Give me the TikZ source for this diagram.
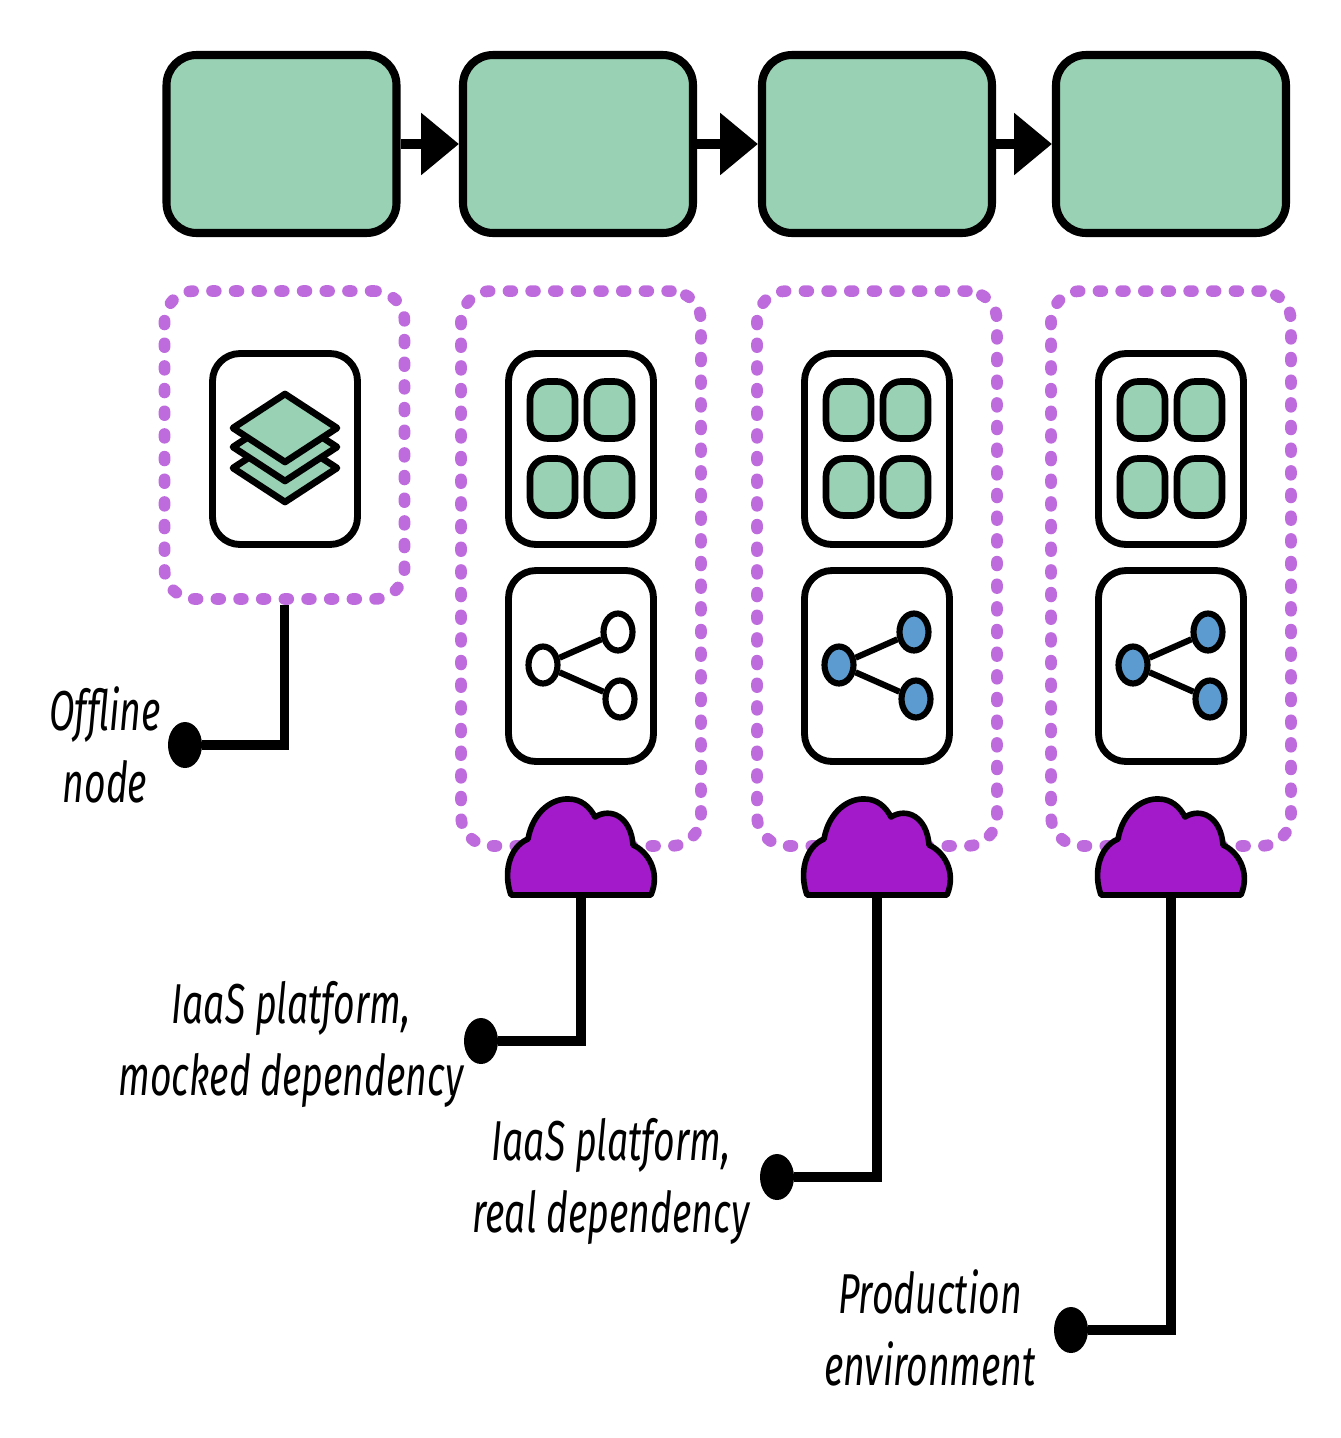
\documentclass[tikz,border=0pt]{standalone}
\usepackage{fontspec}
\newfontfamily\labelfont[FakeStretch=0.665]{Fira Sans}
\usetikzlibrary{arrows.meta}
\usetikzlibrary{shapes.geometric}
\definecolor{stagegreen}{HTML}{98D1B4}
\definecolor{zonepurple}{HTML}{BE6BDD}
\definecolor{cloudpurple}{HTML}{A31ACB}
\definecolor{shareblue}{HTML}{5B9BD0}

\begin{document}
\begin{tikzpicture}
	[
	x=0.02cm, y=-0.02cm,
	> = {Triangle[length=21.5pt,width=34pt]},
	stagebox/.style = {draw,fill=stagegreen,line width=4.6pt,rounded corners=0.6cm,minimum width=4.6cm,minimum height=3.56cm},
	zone/.style = {draw=zonepurple,line width=6.6pt,line cap=round,dash pattern=on 2.2pt off 10.7pt,rounded corners=0.6cm,minimum width=4.8cm},
	panel/.style = {draw,fill=white,line width=3.9pt,rounded corners=0.55cm,minimum width=2.9cm,minimum height=3.82cm},
	tile/.style = {draw,fill=stagegreen,line width=3.8pt,rounded corners=0.36cm,minimum width=0.9cm,minimum height=1.14cm},
	sharedot/.style = {ellipse,draw,line width=3.5pt,inner sep=0pt,minimum width=0.58cm,minimum height=0.74cm},
	layer/.style = {draw,fill=stagegreen,line width=3.8pt,line join=round},
	cloudshape/.style = {draw,fill=cloudpurple,line width=3.2pt,line join=round},
	pin/.style = {ellipse,fill,inner sep=0pt,minimum width=0.68cm,minimum height=0.92cm},
	leader/.style = {line width=5.2pt},
	callout/.style = {align=center,font=\labelfont\itshape\fontsize{32}{41}\selectfont}
	]
	\useasboundingbox (0,0) rectangle (1340,1438);

	% pipeline
	\node[stagebox] (stage1) at (281.5,144) {};
	\node[stagebox] (stage2) at (578,144) {};
	\node[stagebox] (stage3) at (877,144) {};
	\node[stagebox] (stage4) at (1171,144) {};
	\foreach \a/\b in {1/2,2/3,3/4}
		\draw[->,line width=5.4pt] (stage\a) -- (stage\b);

	% offline node
	\node[zone,minimum height=6.16cm] (zone1) at (284.5,445) {};
	\node[panel] (stack1) at (285,449) {};
	\foreach \ypos in {468,447,428}
		\draw[layer] (285,\ypos-34) -- (337,\ypos) -- (285,\ypos+34) -- (233,\ypos) -- cycle;
	\node[pin] (pin1) at (185,745) {};
	\draw[leader] (pin1) -| (zone1.south);
	\node[callout] (text1) at (105,745) {Offline\\node};

	% the three platforms
	\foreach \n/\cx/\dotfill in {2/581/white,3/877/shareblue,4/1171/shareblue}
	{
		\node[zone,minimum height=11.1cm] (zone\n) at (\cx,568.5) {};
		\node[panel] (grid\n) at (\cx,449) {};
		\node[tile] at (\cx-28.5,410) (tilea\n) {};
		\node[tile] at (\cx+28.5,410) (tileb\n) {};
		\node[tile] at (\cx-28.5,487) (tilec\n) {};
		\node[tile] at (\cx+28.5,487) (tiled\n) {};
		\node[panel] (share\n) at (\cx,666) {};
		\node[sharedot,fill=\dotfill] (root\n) at (\cx-38,665) {};
		\node[sharedot,fill=\dotfill] (upper\n) at (\cx+37,632) {};
		\node[sharedot,fill=\dotfill] (lower\n) at (\cx+39,699) {};
		\draw[line width=3.5pt] (root\n) -- (upper\n);
		\draw[line width=3.5pt] (root\n) -- (lower\n);
		\coordinate (cloud\n) at (\cx,895);
		\draw[cloudshape,shift={(cloud\n)}] (-70,0) .. controls (-78,-22) and (-72,-48) .. (-53,-56)
			.. controls (-48,-84) and (-28,-97) .. (-12,-96)
			.. controls (0,-96) and (9,-88) .. (14,-78)
			.. controls (30,-88) and (50,-78) .. (52,-50)
			.. controls (66,-44) and (80,-24) .. (70,0) -- cycle;
	}

	% leaders and labels
	\node[pin] (pin2) at (481,1041) {};
	\node[pin] (pin3) at (777,1177) {};
	\node[pin] (pin4) at (1071,1330) {};
	\draw[leader] (pin2) -| (cloud2);
	\draw[leader] (pin3) -| (cloud3);
	\draw[leader] (pin4) -| (cloud4);
	\node[callout] (text2) at (291,1044) {IaaS platform,\\mocked dependency};
	\node[callout] (text3) at (611,1181) {IaaS platform,\\real dependency};
	\node[callout] (text4) at (930,1328) {Production\\environment};
\end{tikzpicture}
\end{document}
